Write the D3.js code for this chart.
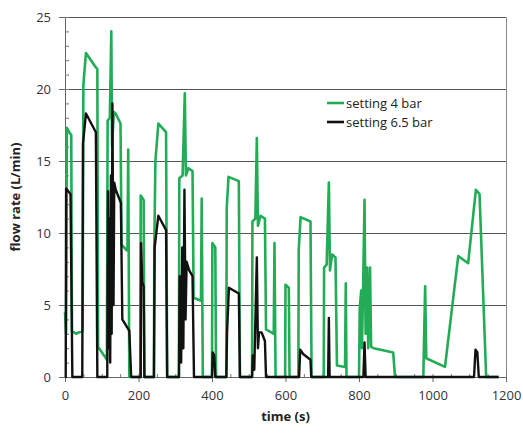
<!DOCTYPE html>
<html><head><meta charset="utf-8">
<script src="https://cdn.jsdelivr.net/npm/d3@7"></script>
<style>body{margin:0;background:#fff}svg{display:block}text{font-family:"Open Sans",sans-serif}</style>
</head><body><svg id="c" width="523" height="439"></svg>
<script>
const seriesNames = ["setting 4 bar", "setting 6.5 bar"];
const xTicks = [0, 200, 400, 600, 800, 1000, 1200];
const yTicks = [0, 5, 10, 15, 20, 25];
// time (s), flow rate (L/min)
const green = [
 [0,4.5],[3,3.0],[5,17.3],[14,16.9],[17,16.8],[19,3.2],[30,3.0],[48,3.2],[50,20.3],[57,22.5],[84,21.5],[88,21.4],[90,2.1],[114,1.2],
 [116,17.8],[122,18.0],[126,24.0],[128,16.0],[133,18.4],[138,18.3],[151,17.6],[154,9.2],[168,8.8],[170,9.0],[172,15.8],[175,0],
 [205,0],[206,12.6],[214,12.3],[216,0],
 [242,0],[243,9.0],[246,15.0],[254,17.6],[275,17.0],[278,0],
 [310,0],[311,13.8],[320,14.0],[326,19.7],[329,14.0],[336,14.5],[347,14.3],[350,5.5],[370,5.3],[372,12.4],[375,0],
 [400,0],[401,9.3],[409,9.0],[411,0],
 [439,0],[440,11.7],[445,13.9],[473,13.6],[476,0],
 [509,0],[510,10.8],[518,11.0],[522,16.6],[525,10.5],[532,11.2],[544,11.0],[547,3.3],[568,3.0],[570,9.3],[573,0],
 [599,0],[600,6.4],[609,6.2],[611,0],
 [635,0],[636,8.8],[641,11.1],[668,10.8],[671,0],
 [704,0],[705,7.6],[712,7.8],[718,13.5],[721,7.4],[727,8.5],[736,8.3],[740,0.8],[762,0.7],[764,6.5],[766,0],
 [800,0],[802,4.8],[806,6.0],[808,2.0],[811,5.8],[815,12.3],[818,3.0],[822,7.6],[825,2.0],[830,7.6],[833,2.1],[840,2.0],[893,1.7],[898,0],
 [975,0],[980,6.3],[983,1.3],[1034,0.7],[1070,8.4],[1097,7.9],[1118,13.0],[1128,12.7],[1146,0],[1180,0]
];
const black = [
 [0,0],[2,0],[3,13.1],[15,12.7],[20,0],[47,0],[49,16.2],[57,18.3],[84,17.0],[88,0],
 [115,0],[117,12.9],[119,2],[121,11],[123,1],[125,14],[127,3],[129,19.0],[132,5],[134,13.5],[138,13.0],[152,12.1],[156,4.0],[175,3.2],[180,0],
 [206,0],[207,9.3],[210,6.6],[214,6.3],[216,0],
 [242,0],[244,9.0],[254,11.2],[275,10.2],[278,0],
 [310,0],[312,7.0],[316,1],[319,9],[322,2],[325,13.0],[328,4],[331,8],[338,7.4],[347,7.0],[351,0],
 [400,0],[402,1.7],[406,1.5],[409,0],
 [439,0],[441,3.1],[446,6.2],[473,5.8],[476,0],
 [509,0],[511,1.5],[515,0.5],[519,5],[522,8.3],[525,2],[528,3.1],[535,3.1],[544,2.5],[547,0],
 [637,0],[640,1.9],[648,1.6],[668,1.2],[670,0],
 [716,0],[718,4.1],[720,0],
 [812,0],[815,2.4],[818,0],
 [1113,0],[1117,1.9],[1122,1.7],[1126,0],[1180,0]
];

const svg = d3.select("#c");
const L = 65, R = 506, T = 17, B = 377;
const x = d3.scaleLinear().domain([0,1200]).range([L,R]);
const y = d3.scaleLinear().domain([0,25]).range([B,T]);

// gridlines via axis
svg.append("g").attr("transform",`translate(${L},0)`)
  .call(d3.axisLeft(y).tickValues(yTicks.filter(d=>d>0)).tickSize(-(R-L)).tickFormat(""))
  .call(g=>{g.select(".domain").remove();
    g.selectAll(".tick line").attr("stroke","#555").attr("stroke-width",1.2);});
// right border
svg.append("g").attr("transform",`translate(${R},0)`)
  .call(d3.axisRight(y).tickValues([]).tickSizeOuter(0))
  .call(g=>g.select(".domain").attr("stroke","#888"));

// y axis
const ya = svg.append("g").attr("transform",`translate(${L},0)`)
  .call(d3.axisLeft(y).tickValues(yTicks).tickSize(6).tickSizeOuter(0).tickPadding(8));
ya.select(".domain").attr("stroke","#666");
ya.selectAll(".tick line").attr("stroke","#666");
ya.selectAll("text").attr("font-size",13).attr("fill","#333");
svg.append("g").attr("transform",`translate(${L},0)`)
  .call(d3.axisRight(y).tickValues(d3.range(0,26,1)).tickSize(4).tickFormat(""))
  .call(g=>{g.select(".domain").remove();g.selectAll("line").attr("stroke","#777");});

// x axis
const xa = svg.append("g").attr("transform",`translate(0,${B})`)
  .call(d3.axisBottom(x).tickValues(xTicks).tickSize(5).tickSizeOuter(0).tickPadding(9).tickFormat(d3.format("d")));
xa.select(".domain").attr("stroke","#666");
xa.selectAll(".tick line").attr("stroke","#666");
xa.selectAll("text").attr("font-size",13).attr("fill","#333");
svg.append("g").attr("transform",`translate(0,${B})`)
  .call(d3.axisTop(x).tickValues(d3.range(0,1201,50)).tickSize(3).tickFormat(""))
  .call(g=>{g.select(".domain").remove();g.selectAll("line").attr("stroke","#777");});

const line = d3.line().x(d=>x(d[0])).y(d=>y(d[1]));
svg.append("path").datum(green).attr("d",line).attr("fill","none")
  .attr("stroke","#22ac55").attr("stroke-width",2.6).attr("stroke-linejoin","round");
svg.append("path").datum(black).attr("d",line).attr("fill","none")
  .attr("stroke","#111").attr("stroke-width",2.4).attr("stroke-linejoin","round");

// legend
const colors = ["#22ac55","#111"];
const lg = svg.append("g");
seriesNames.forEach((n,i)=>{
  const yy = 103 + i*19;
  lg.append("path").attr("d",`M327,${yy}H344`)
    .attr("stroke",colors[i]).attr("stroke-width",2.6);
  lg.append("text").attr("x",346).attr("y",yy+4.5).attr("font-size",13).attr("fill","#222").text(n);
});

// axis titles
svg.append("text").attr("x",x(600)).attr("y",421).attr("text-anchor","middle")
  .attr("font-size",13).attr("font-weight","bold").attr("fill","#222").text("time (s)");
svg.append("text").attr("transform","translate(20,197) rotate(-90)").attr("text-anchor","middle")
  .attr("font-size",13).attr("font-weight","bold").attr("fill","#222").text("flow rate (L/min)");
</script></body></html>
